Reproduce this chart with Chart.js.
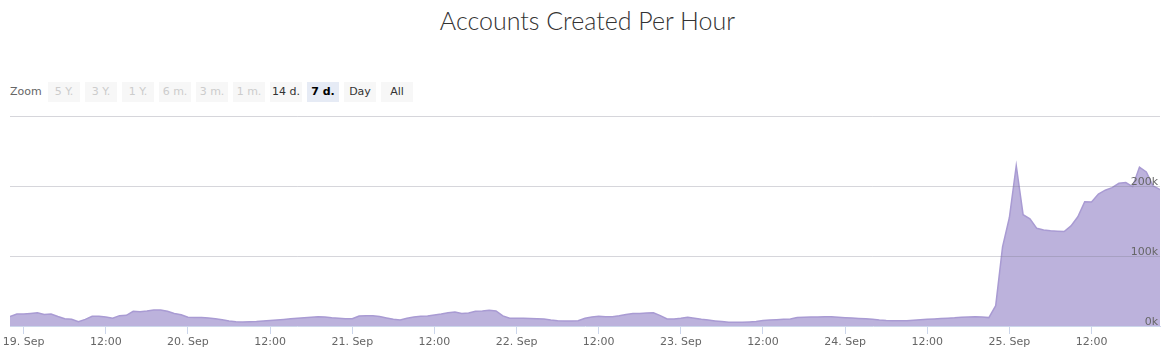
<!DOCTYPE html>
<html>
<head>
<meta charset="utf-8">
<script src="https://cdn.jsdelivr.net/npm/chart.js@4.4.0/dist/chart.umd.min.js"></script>
<style>
  html, body { margin: 0; padding: 0; background: #fff; }
  body { width: 1175px; height: 362px; position: relative; overflow: hidden; font-family: "DejaVu Sans", sans-serif; }
  #title { position: absolute; left: 0; top: 5px; width: 1175px; text-align: center; font-family: Lato, "Open Sans", sans-serif; font-weight: 300; font-size: 25px; color: #333; }
  #zoom { position: absolute; left: 10px; top: 82px; height: 20px; line-height: 20px; font-size: 11px; color: #666; }
  .btn { position: absolute; top: 82px; width: 32px; height: 20px; line-height: 20px; text-align: center; font-size: 11px; background: #f7f7f7; color: #333; }
  .btn.off { color: #ccc; }
  .btn.on { background: #e6ebf5; color: #000; font-weight: bold; }
  #wrap { position: absolute; left: 0; top: 0; width: 1175px; height: 362px; }
</style>
</head>
<body>
<div id="title">Accounts Created Per Hour</div>
<div id="zoom">Zoom</div>
<div id="buttons"></div>
<div id="wrap"><canvas id="chart"></canvas></div>
<script>
// Accounts created per hour, in thousands; series runs 18 Sep 22:00 -> 25 Sep 22:00
const sep18 = [13.5, 17];
const sep19 = [17, 18, 19, 16.5, 17, 13.5, 10.5, 9.5, 6, 9.5, 13.8, 13.8, 13, 11, 14.8, 15.2, 21, 20.5, 21.5, 23, 23, 21, 18, 16];
const sep20 = [12.5, 12, 12, 11.4, 10.5, 9, 7, 6, 5.7, 6, 6.4, 7.2, 8, 8.7, 9.4, 10.2, 11, 11.7, 12.4, 13.2, 13, 11.8, 11, 10.2];
const sep21 = [10.5, 14.3, 14.8, 14.8, 13.5, 11.5, 9.5, 8.6, 11, 13, 13.8, 14.3, 15.7, 17, 19, 20, 18, 18.5, 21, 21.4, 22.4, 21.5, 14.5, 11];
const sep22 = [11, 11, 10.7, 10.3, 10, 8.5, 7.5, 7.1, 7.1, 7.5, 11, 13, 14, 13.3, 13.3, 14.5, 16.5, 18, 18, 18.5, 19, 14.8, 10, 10];
const sep23 = [11, 12.4, 11, 9.5, 8.5, 7.3, 6.3, 5.5, 5.2, 5.3, 5.8, 6.5, 7.8, 8.5, 9, 9.5, 10, 12, 12.6, 12.9, 13, 13.2, 13.3, 12.5];
const sep24 = [11.9, 11.3, 10.8, 10.2, 9.5, 8.5, 7.9, 7.6, 7.6, 7.6, 8.3, 9, 9.5, 10, 10.6, 11.2, 11.7, 12.5, 13, 13.3, 13, 12, 29, 113];
const sep25 = [155, 229, 159, 153, 139.5, 137, 136, 135.5, 135, 143, 156, 177.6, 177, 188.6, 194, 197.6, 203.8, 205, 199, 227, 220, 200, 195];

// x ticks: hours counted from the first point (18 Sep 22:00)
const tickHours = [2, 14, 26, 38, 50, 62, 74, 86, 98, 110, 122, 134, 146, 158];
const tickLabels = ['19. Sep', '12:00', '20. Sep', '12:00', '21. Sep', '12:00', '22. Sep', '12:00',
                    '23. Sep', '12:00', '24. Sep', '12:00', '25. Sep', '12:00'];
const yTicks = [0, 100, 200, 300];

const rangeButtons = ['5 Y.', '3 Y.', '1 Y.', '6 m.', '3 m.', '1 m.', '14 d.', '7 d.', 'Day', 'All'];
const disabledButtons = ['5 Y.', '3 Y.', '1 Y.', '6 m.', '3 m.', '1 m.'];
const selectedButton = '7 d.';

const btnBox = document.getElementById('buttons');
rangeButtons.forEach((label, i) => {
    const b = document.createElement('div');
    b.className = 'btn' + (disabledButtons.includes(label) ? ' off' : '') + (label === selectedButton ? ' on' : '');
    b.style.left = (48 + i * 37) + 'px';
    b.textContent = label;
    btnBox.appendChild(b);
});

const hourly = [].concat(sep18, sep19, sep20, sep21, sep22, sep23, sep24, sep25);
const points = hourly.map((v, i) => ({ x: i, y: v }));

// y grid + labels sit on top of the area, like the original
const overlayYAxis = {
    id: 'overlayYAxis',
    afterDatasetsDraw(chart) {
        const { ctx, chartArea, scales: { y } } = chart;
        ctx.save();
        ctx.strokeStyle = 'rgba(120,120,135,0.3)';
        ctx.lineWidth = 1;
        ctx.fillStyle = '#666';
        ctx.font = '11px "DejaVu Sans"';
        ctx.textAlign = 'right';
        ctx.textBaseline = 'alphabetic';
        yTicks.forEach(v => {
            const py = Math.round(y.getPixelForValue(v)) + 0.5;
            if (v > 0) {
                ctx.beginPath();
                ctx.moveTo(chartArea.left, py);
                ctx.lineTo(chartArea.right, py);
                ctx.stroke();
            }
            if (v < 300) ctx.fillText(v + 'k', chartArea.right - 2, py - 2);
        });
        ctx.restore();
    }
};

new Chart(document.getElementById('chart'), {
    type: 'line',
    data: {
        datasets: [{
            data: points,
            borderColor: '#a99bd3',
            borderWidth: 1.5,
            backgroundColor: '#bcb2dc',
            fill: 'origin',
            pointRadius: 0,
            tension: 0
        }]
    },
    options: {
        responsive: true,
        maintainAspectRatio: false,
        animation: false,
        layout: { padding: { left: 10, right: 15, top: 116, bottom: 0 } },
        plugins: { legend: { display: false }, tooltip: { enabled: false } },
        scales: {
            x: {
                type: 'linear',
                min: 0,
                max: hourly.length - 1,
                afterBuildTicks: s => { s.ticks = tickHours.map(v => ({ value: v })); },
                afterFit: s => { s.paddingLeft = 0; s.paddingRight = 0; s.height = 36; },
                grid: { drawOnChartArea: false, drawTicks: true, tickLength: 8, color: '#ccd6eb' },
                border: { display: true, color: '#ccd6eb' },
                ticks: {
                    autoSkip: false, maxRotation: 0, padding: 2,
                    color: '#666', font: { family: 'DejaVu Sans', size: 11 },
                    callback: (v, i) => tickLabels[i]
                }
            },
            y: {
                display: false,
                min: 0,
                max: 300
            }
        }
    },
    plugins: [overlayYAxis]
});
</script>
</body>
</html>
